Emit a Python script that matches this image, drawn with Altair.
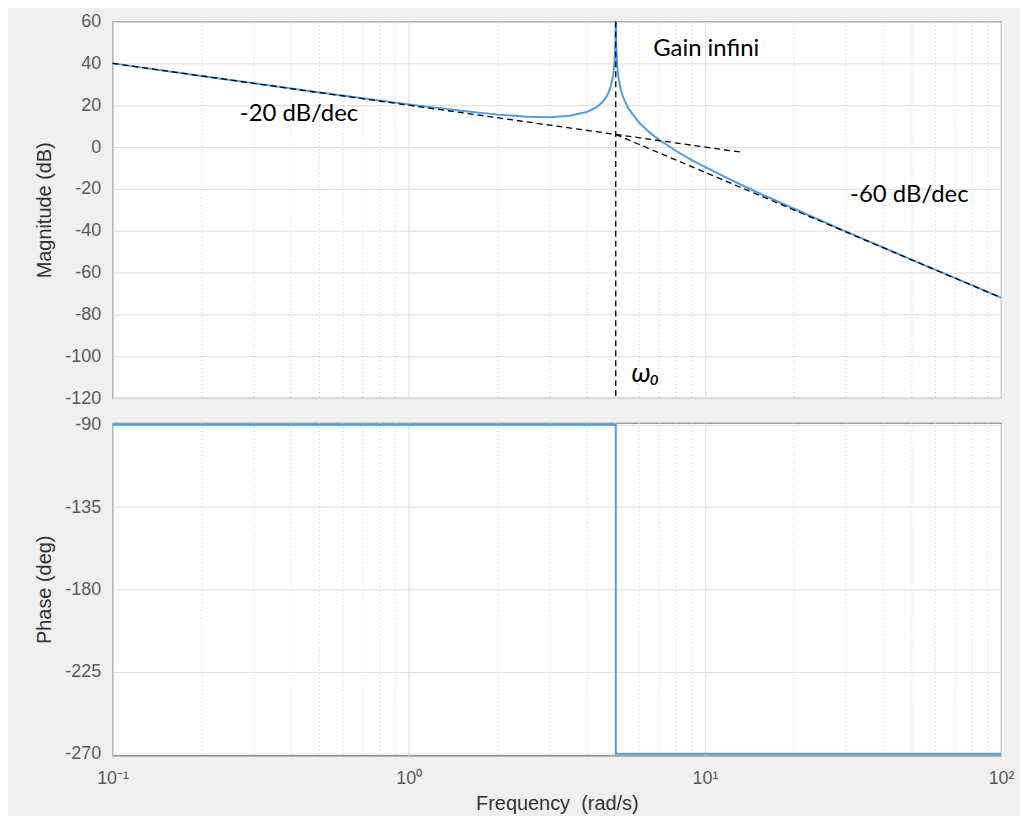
import altair as alt
import pandas as pd

# Magnitude curve
mag_w = [0.1, 0.2, 0.3, 0.5, 0.7, 1, 1.5, 2, 2.5, 3, 3.5, 4, 4.3, 4.5, 4.6, 4.7, 4.8, 4.9,
         4.95, 4.98, 4.99, 4.995, 4.999, 5.001, 5.005, 5.01, 5.02, 5.05, 5.1, 5.2, 5.3,
         5.5, 6, 6.5, 7, 8, 9, 10, 12, 15, 20, 30, 50, 70, 100]
mag_db = [40.0, 34.0, 30.5, 26.1, 23.3, 20.4, 17.3, 15.5, 14.5, 14.3, 15.0, 16.8, 19.0, 21.4,
          23.0, 25.2, 28.5, 34.2, 40.1, 48.0, 54.0, 60.0, 74.0, 74.0, 60.0, 53.9, 47.9, 39.9,
          33.7, 27.4, 23.7, 18.7, 11.6, 7.0, 3.5, -1.9, -6.1, -9.5, -15.1, -21.6, -29.5,
          -40.4, -53.9, -62.7, -72.0]

# Asymptotes (dashed)
asym_seg = ["a", "a", "b", "b"]
asym_w = [0.1, 13.5, 5, 100]
asym_db = [40, -2.6, 6, -72]
w0 = [5]

# Phase
ph_w = [0.1, 5, 5, 100]
ph_deg = [-90, -90, -270, -270]

# Annotations
ann_text = ["Gain infini", "-20 dB/dec", "-60 dB/dec"]
ann_w = [10.1, 0.426, 49]
ann_db = [47, 15.7, -22.9]
w0_label_w = [6.3]
w0_label_db = [-108.6]

major_x = [0.1, 1, 10, 100]
minor_x = [0.2, 0.3, 0.4, 0.5, 0.6, 0.7, 0.8, 0.9, 2, 3, 4, 5, 6, 7, 8, 9,
           20, 30, 40, 50, 60, 70, 80, 90]
mag_ticks = [60, 40, 20, 0, -20, -40, -60, -80, -100, -120]
ph_ticks = [-90, -135, -180, -225, -270]

W = 892
LABEL_FONT = "Liberation Sans"
ANN_FONT = "Lato"
BLUE = "#4f9fdc"

xscale = alt.Scale(type="log", domain=[0.1, 100], nice=False)

mag_df = pd.DataFrame({"w": mag_w, "db": mag_db, "i": range(len(mag_w))})
asym_df = pd.DataFrame({"seg": asym_seg, "w": asym_w, "db": asym_db})
ph_df = pd.DataFrame({"w": ph_w, "deg": ph_deg, "i": range(len(ph_w))})
ann_df = pd.DataFrame({"t": ann_text, "w": ann_w, "db": ann_db})
w0_df = pd.DataFrame({"t": ["ω₀"], "w": w0_label_w, "db": w0_label_db})
minor_df = pd.DataFrame({"g": minor_x})
w0_rule_df = pd.DataFrame({"w": w0})

sup = "{'0.1':'10⁻¹','1':'10⁰','10':'10¹','100':'10²'}['' + datum.value]"

yaxis_common = dict(labelFont=LABEL_FONT, labelFontSize=18, labelColor="#5a5a5a",
                    labelExpr="'' + datum.value",
                    titleFont=LABEL_FONT, titleFontSize=20, titleColor="#333333",
                    titleFontWeight="normal", labelPadding=12, titlePadding=10,
                    ticks=False, domain=False, gridColor="#dedede", gridWidth=1)

def minor_grid():
    return alt.Chart(minor_df).mark_rule(color="#c8c8c8", strokeDash=[1, 3], strokeWidth=1).encode(
        x=alt.X("g:Q", scale=xscale)
    )

# ---------------- Magnitude panel ----------------
x_top = alt.X("w:Q", scale=xscale,
              axis=alt.Axis(values=major_x, labels=False, ticks=False, domain=False,
                            title=None, grid=True, gridColor="#dedede"))

mag_line = alt.Chart(mag_df).mark_line(color=BLUE, strokeWidth=2, clip=True).encode(
    x=x_top,
    y=alt.Y("db:Q", scale=alt.Scale(domain=[-120, 60], nice=False),
            axis=alt.Axis(values=mag_ticks, title="Magnitude (dB)", **yaxis_common)),
    order="i:Q",
)

asym = alt.Chart(asym_df).mark_line(color="black", strokeDash=[6, 4], strokeWidth=1.3).encode(
    x=alt.X("w:Q", scale=xscale), y="db:Q", detail="seg:N"
)

w0_rule = alt.Chart(w0_rule_df).mark_rule(color="black", strokeDash=[6, 4], strokeWidth=1.3).encode(
    x=alt.X("w:Q", scale=xscale)
)

ann = alt.Chart(ann_df).mark_text(font=ANN_FONT, fontSize=24, color="black").encode(
    x=alt.X("w:Q", scale=xscale), y="db:Q", text="t:N"
)

w0_txt = alt.Chart(w0_df).mark_text(font=ANN_FONT, fontSize=27, fontStyle="italic",
                                     color="black").encode(
    x=alt.X("w:Q", scale=xscale), y="db:Q", text="t:N"
)

top = alt.layer(minor_grid(), mag_line, asym, w0_rule, ann, w0_txt).properties(width=W, height=378)

# ---------------- Phase panel ----------------
x_bot = alt.X("w:Q", scale=xscale,
              axis=alt.Axis(values=major_x, labelExpr=sup, title="Frequency\u00a0\u00a0(rad/s)",
                            labelFont=LABEL_FONT, labelFontSize=18, labelColor="#5a5a5a",
                            titleFont=LABEL_FONT, titleFontSize=20, titleColor="#333333",
                            titleFontWeight="normal", labelPadding=14, titlePadding=6,
                            ticks=False, domain=False, grid=True, gridColor="#dedede",
                            labelFlush=False))

ph_line = alt.Chart(ph_df).mark_line(color=BLUE, strokeWidth=2).encode(
    x=x_bot,
    y=alt.Y("deg:Q", scale=alt.Scale(domain=[-271, -89], nice=False),
            axis=alt.Axis(values=ph_ticks, title="Phase (deg)", **yaxis_common)),
    order="i:Q",
)

bottom = alt.layer(minor_grid(), ph_line).properties(width=W, height=334)

chart = alt.vconcat(top, bottom, spacing=25, bounds="flush").properties(
    padding={"left": 26, "top": 2, "right": 5, "bottom": 0}
).configure(background="#f0f0f0").configure_view(
    fill="white", stroke="#7a7a7a", strokeWidth=1.2
)

chart.save("out.html", embed_options={"renderer": "svg", "actions": False})
